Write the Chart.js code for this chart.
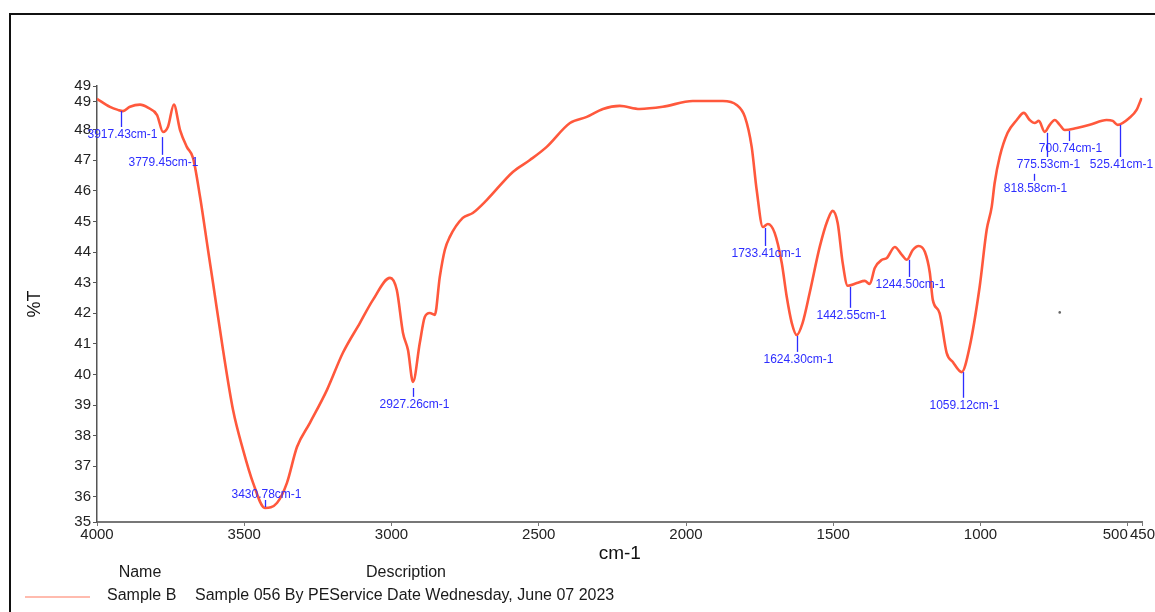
<!DOCTYPE html>
<html>
<head>
<meta charset="utf-8">
<script src="https://cdn.jsdelivr.net/npm/chart.js@4/dist/chart.umd.min.js"></script>
<style>
  html, body { margin: 0; padding: 0; background: #ffffff; }
  #wrap { width: 1155px; height: 612px; position: relative; }
</style>
</head>
<body>
<div id="wrap"><canvas id="c" width="1155" height="612"></canvas></div>
<script>
// ---- data ----
const wavenumbers = [4000, 3956, 3929, 3912, 3888, 3854, 3827, 3796, 3776, 3759, 3739, 3718, 3695, 3674, 3650, 3623, 3606, 3572, 3538, 3504, 3470, 3430, 3389, 3355, 3321, 3277, 3219, 3165, 3107, 3063, 3005, 2982, 2961, 2944, 2927, 2904, 2887, 2870, 2853, 2836, 2819, 2802, 2758, 2724, 2676, 2588, 2530, 2473, 2394, 2337, 2282, 2225, 2157, 2079, 1977, 1875, 1828, 1800, 1777, 1760, 1739, 1722, 1699, 1675, 1658, 1641, 1624, 1604, 1580, 1546, 1519, 1502, 1485, 1468, 1451, 1420, 1393, 1376, 1359, 1335, 1318, 1291, 1267, 1250, 1230, 1210, 1189, 1172, 1162, 1139, 1115, 1094, 1064, 1037, 1003, 979, 962, 952, 935, 908, 877, 853, 833, 816, 802, 782, 765, 748, 731, 714, 673, 629, 572, 551, 534, 494, 470, 453];
const transmittance = [49.01, 48.75, 48.65, 48.61, 48.75, 48.82, 48.72, 48.48, 47.93, 48.10, 48.82, 47.99, 47.44, 47.08, 45.80, 44.07, 42.99, 40.80, 38.84, 37.54, 36.46, 35.64, 35.80, 36.46, 37.63, 38.42, 39.50, 40.71, 41.69, 42.44, 43.16, 42.76, 41.36, 40.80, 39.76, 41.03, 41.88, 42.01, 41.95, 43.19, 44.07, 44.50, 45.12, 45.28, 45.71, 46.62, 47.01, 47.44, 48.22, 48.42, 48.68, 48.78, 48.68, 48.75, 48.94, 48.94, 48.81, 48.42, 47.44, 46.03, 44.82, 44.92, 44.63, 43.65, 42.54, 41.69, 41.29, 41.69, 42.67, 44.17, 45.05, 45.35, 44.95, 43.65, 42.90, 42.99, 43.06, 42.96, 43.48, 43.75, 43.81, 44.17, 43.91, 43.75, 44.07, 44.20, 44.01, 43.32, 42.44, 42.01, 40.71, 40.41, 40.08, 40.90, 42.86, 44.73, 45.48, 46.26, 47.11, 47.90, 48.32, 48.55, 48.32, 48.22, 48.29, 47.93, 48.16, 48.32, 48.16, 47.99, 48.06, 48.16, 48.32, 48.29, 48.16, 48.39, 48.65, 49.04];

// stray point visible in the plot area
const strayWavenumbers = [731];
const strayTransmittance = [42.03];

// peak annotations
const peakWavenumbers = [3917.43, 3779.45, 3430.78, 2927.26, 1733.41, 1624.30, 1442.55, 1244.50, 1059.12, 818.58, 775.53, 700.74, 525.41];
const peakLineTopT    = [48.61, 47.76, 35.90, 39.56, 44.79, 41.26, 42.86, 43.75, 40.08, 46.56, 47.90, 47.96, 48.16];
const peakLineBottomT = [48.09, 47.18, 35.67, 39.27, 44.20, 40.74, 42.18, 43.19, 39.24, 46.33, 47.11, 47.63, 47.11];
const peakLabelSide   = ['below','below','above','below','below','below','below','below','below','below','below','below','below'];

// axes
const xMin = 450, xMax = 4000;
const xTickValues = [4000, 3500, 3000, 2500, 2000, 1500, 1000, 500, 450];
const yMin = 35.18, yMax = 49.43;
const yTickValues = [35.18, 36, 37, 38, 39, 40, 41, 42, 43, 44, 45, 46, 47, 48, 48.91, 49.43];

const xTitle = 'cm-1';
const yTitle = '%T';
const legendHeaders = ['Name', 'Description'];
const seriesName = 'Sample B';
const seriesDescription = 'Sample 056 By PEService Date Wednesday, June 07 2023';

// ---- chart ----
const FONT = "'Liberation Sans', Arial, sans-serif";
const CURVE = 'rgb(255, 88, 60)';
const BLUE = 'rgb(45, 45, 255)';

const spectrum = wavenumbers.map((w, i) => ({ x: w, y: transmittance[i] }));
const stray = strayWavenumbers.map((w, i) => ({ x: w, y: strayTransmittance[i] }));

const decorPlugin = {
  id: 'decor',
  beforeDraw(chart) {
    const ctx = chart.ctx;
    ctx.save();
    ctx.fillStyle = '#ffffff';
    ctx.fillRect(0, 0, chart.width, chart.height);
    ctx.restore();
  },
  afterDatasetsDraw(chart) {
    const ctx = chart.ctx;
    const xs = chart.scales.x, ys = chart.scales.y;
    ctx.save();
    ctx.font = '12px ' + FONT;
    ctx.fillStyle = BLUE;
    ctx.strokeStyle = BLUE;
    ctx.lineWidth = 1.3;
    ctx.textAlign = 'center';
    peakWavenumbers.forEach((w, i) => {
      const px = Math.round(xs.getPixelForValue(w)) + 0.5;
      const y1 = ys.getPixelForValue(peakLineTopT[i]);
      const y2 = ys.getPixelForValue(peakLineBottomT[i]);
      ctx.beginPath();
      ctx.moveTo(px, y1);
      ctx.lineTo(px, y2);
      ctx.stroke();
      const label = w.toFixed(2) + 'cm-1';
      if (peakLabelSide[i] === 'above') {
        ctx.textBaseline = 'bottom';
        ctx.fillText(label, px + 1, y1 + 1);
      } else {
        ctx.textBaseline = 'top';
        ctx.fillText(label, px + 1, y2 + 2);
      }
    });
    ctx.restore();
  },
  afterDraw(chart) {
    const ctx = chart.ctx;
    ctx.save();
    // outer frame
    ctx.strokeStyle = '#111111';
    ctx.lineWidth = 2;
    ctx.strokeRect(10, 14, 1160, 620);
    // legend block
    ctx.fillStyle = '#1a1a1a';
    ctx.font = '16px ' + FONT;
    ctx.textBaseline = 'middle';
    ctx.textAlign = 'center';
    ctx.fillText(legendHeaders[0], 140, 573);
    ctx.fillText(legendHeaders[1], 406, 573);
    ctx.textAlign = 'left';
    ctx.fillText(seriesName, 107, 596);
    ctx.fillText(seriesDescription, 195, 596);
    ctx.strokeStyle = 'rgb(255, 120, 95)';
    ctx.lineWidth = 1.2;
    ctx.beginPath();
    ctx.moveTo(25, 597);
    ctx.lineTo(90, 597);
    ctx.stroke();
    ctx.restore();
  }
};

new Chart(document.getElementById('c'), {
  type: 'line',
  data: {
    datasets: [
      {
        label: seriesName,
        data: spectrum,
        borderColor: CURVE,
        borderWidth: 2.6,
        pointRadius: 0,
        fill: false,
        tension: 0.35,
        cubicInterpolationMode: 'monotone'
      },
      {
        label: 'point',
        data: stray,
        showLine: false,
        pointRadius: 1.3,
        pointBackgroundColor: '#666666',
        pointBorderWidth: 0
      }
    ]
  },
  options: {
    responsive: false,
    animation: false,
    events: [],
    layout: { padding: { top: 86, right: 12, left: 0, bottom: 0 } },
    plugins: { legend: { display: false }, tooltip: { enabled: false } },
    scales: {
      x: {
        type: 'linear',
        reverse: true,
        min: xMin,
        max: xMax,
        afterBuildTicks: s => { s.ticks = xTickValues.map(v => ({ value: v })); },
        afterFit: s => { s.height = 90; },
        ticks: {
          autoSkip: false,
          maxRotation: 0,
          minRotation: 0,
          padding: 0,
          color: '#222222',
          font: { family: FONT, size: 15 },
          callback: v => (v === 500 ? '500      ' : String(v))
        },
        grid: { drawOnChartArea: false, drawTicks: true, tickLength: 4, color: '#777777' },
        border: { display: true, color: '#777777', width: 2 },
        title: {
          display: true,
          text: xTitle,
          color: '#111111',
          font: { family: FONT, size: 19 },
          padding: { top: 0, bottom: 47 }
        }
      },
      y: {
        type: 'linear',
        min: yMin,
        max: yMax,
        afterBuildTicks: s => { s.ticks = yTickValues.map(v => ({ value: v })); },
        afterFit: s => { s.width = 97; },
        ticks: {
          autoSkip: false,
          padding: 2,
          color: '#222222',
          font: { family: FONT, size: 15 },
          callback: v => String(Math.round(v))
        },
        grid: { drawOnChartArea: false, drawTicks: true, tickLength: 4, color: '#555555' },
        border: { display: true, color: '#555555', width: 1.5 },
        title: {
          display: true,
          text: yTitle,
          color: '#111111',
          font: { family: FONT, size: 18 },
          padding: { top: 24, bottom: 0 }
        }
      }
    }
  },
  plugins: [decorPlugin]
});
</script>
</body>
</html>
